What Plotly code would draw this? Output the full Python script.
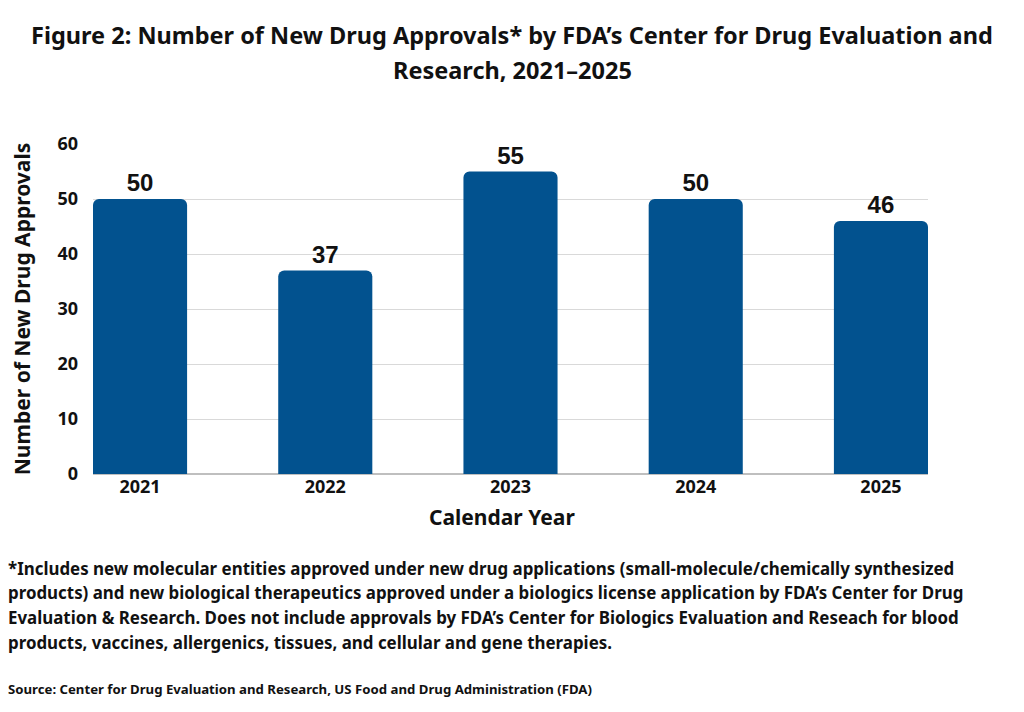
import plotly.graph_objects as go

years = ["2021", "2022", "2023", "2024", "2025"]
approvals = [50, 37, 55, 50, 46]
y_ticks = [0, 10, 20, 30, 40, 50, 60]

title_lines = ["Figure 2: Number of New Drug Approvals* by FDA’s Center for Drug Evaluation and",
               "Research, 2021–2025"]
x_title = "Calendar Year"
y_title = "Number of New Drug Approvals"
note_lines = [
    "*Includes new molecular entities approved under new drug applications (small-molecule/chemically synthesized",
    "products) and new biological therapeutics approved under a biologics license application by FDA’s Center for Drug",
    "Evaluation & Research. Does not include approvals by FDA’s Center for Biologics Evaluation and Reseach for blood",
    "products, vaccines, allergenics, tissues, and cellular and gene therapies.",
]
source = "Source: Center for Drug Evaluation and Research, US Food and Drug Administration (FDA)"

HEAD = "Noto Sans"
AX = "Noto Sans"
LBL = "Liberation Sans, Arial, sans-serif"
OFF = 8  # page body margin offset

# screen-space layout targets
L, R, T, B = 93, 928, 144, 474
ml, mr, mt, mb = L - OFF, 1024 - R + OFF, T - OFF, 712 - B + OFF
PW, PH = R - L, B - T

fig = go.Figure(go.Bar(
    x=years, y=approvals,
    marker=dict(color="#02528F", line=dict(width=0)),
    text=approvals, textposition="outside", cliponaxis=False,
    textfont=dict(family=LBL, size=24, color="#111111", weight="bold"),
    width=0.508,
))

fig.update_layout(
    width=1024, height=712,
    margin=dict(l=ml, r=mr, t=mt, b=mb, autoexpand=False),
    paper_bgcolor="white", plot_bgcolor="white",
    showlegend=False,
    barcornerradius=6,
    xaxis=dict(range=[-0.254, 4.254], showgrid=False, showline=False, ticks="", automargin=False,
               tickfont=dict(family=AX, size=18, color="#111111", weight="bold")),
    yaxis=dict(range=[0, 60], tickvals=y_ticks, showgrid=True, gridcolor="#D9D9D9", gridwidth=1,
               zeroline=True, zerolinecolor="#BFBFBF", zerolinewidth=1.5, ticks="", ticklabelstandoff=14,
               automargin=False,
               tickfont=dict(family=AX, size=18, color="#111111", weight="bold"),
               title=dict(text=y_title, font=dict(family=AX, size=21, color="#111111", weight="bold"), standoff=25)),
)

def pos(xs, ys):
    return (xs - L) / PW, (B - ys) / PH

for i, t in enumerate(title_lines):
    px, py = pos(512, 35 + 35 * i)
    fig.add_annotation(text=t, xref="paper", yref="paper", x=px, y=py,
                       xanchor="center", yanchor="middle", showarrow=False,
                       font=dict(family=HEAD, size=23.5, color="#111111", weight="bold"))

px, py = pos(502, 517)
fig.add_annotation(text=x_title, xref="paper", yref="paper", x=px, y=py,
                   xanchor="center", yanchor="middle", showarrow=False,
                   font=dict(family=AX, size=21, color="#111111", weight="bold"))

for i, t in enumerate(note_lines):
    px, py = pos(6, 568 + 24.7 * i)
    fig.add_annotation(text=t, xref="paper", yref="paper", x=px, y=py,
                       xanchor="left", yanchor="middle", showarrow=False,
                       font=dict(family=HEAD, size=16.9, color="#111111", weight="bold"))

px, py = pos(6, 689)
fig.add_annotation(text=source, xref="paper", yref="paper", x=px, y=py,
                   xanchor="left", yanchor="middle", showarrow=False,
                   font=dict(family=HEAD, size=13.2, color="#111111", weight="bold"))

fig.write_html("out.html")
